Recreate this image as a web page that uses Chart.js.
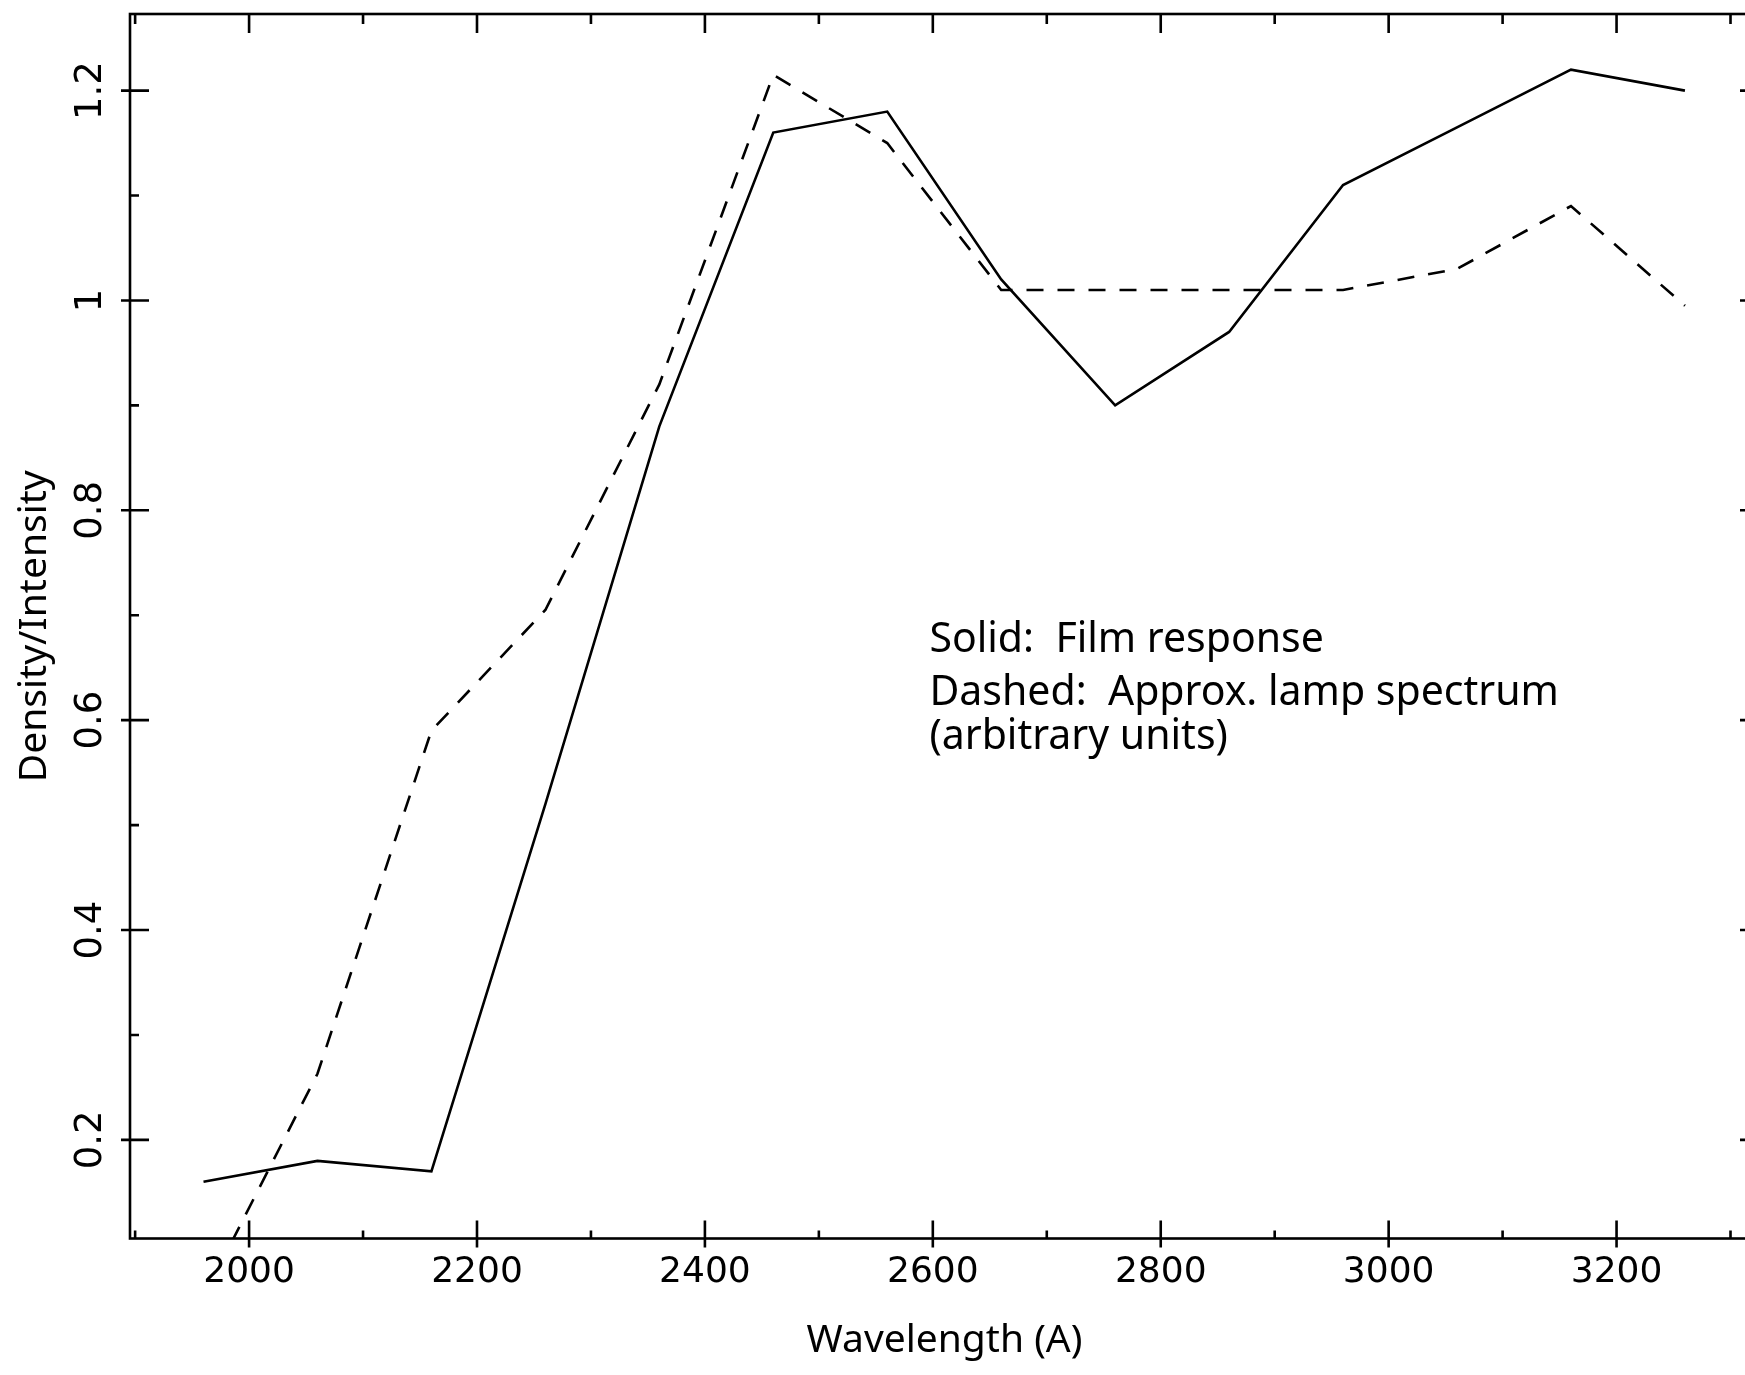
<!DOCTYPE html>
<html lang="en">
<head>
  <meta charset="UTF-8">
  <title>Film response and lamp spectrum</title>
  <script src="https://cdn.jsdelivr.net/npm/chart.js"></script>
  <style>
    body {
      margin: 0;
      padding: 0;
      background: #fff;
      overflow: hidden;
    }
    #wrap {
      width: 1745px;
      height: 1375px;
      overflow: hidden;
    }
    canvas {
      display: block;
    }
  </style>
</head>
<body>

<div id="wrap">
  <canvas id="spectrumChart" width="1765" height="1375"></canvas>
</div>

<script>
  // Wavelength (A) of each sample
  const wavelengths = [1960, 2060, 2160, 2260, 2360, 2460, 2560, 2660, 2760, 2860, 2960, 3060, 3160, 3260];
  // Solid: film response (density)
  const filmResponse = [0.16, 0.18, 0.17, 0.52, 0.88, 1.16, 1.18, 1.02, 0.90, 0.97, 1.11, 1.165, 1.22, 1.20];
  // Dashed: approx. lamp spectrum (arbitrary units)
  const lampSpectrum = [0.05, 0.263, 0.59, 0.705, 0.92, 1.215, 1.15, 1.01, 1.01, 1.01, 1.01, 1.03, 1.09, 0.995];

  const xMajorStep = 200;
  const notes = [
    { text: 'Solid:  Film response', x: 2597, y: 0.6765 },
    { text: 'Dashed:  Approx. lamp spectrum', x: 2597, y: 0.626 },
    { text: '(arbitrary units)', x: 2597, y: 0.584 }
  ];

  const tickFont = { family: 'DejaVu Sans', size: 36 };
  const textFont = { family: 'Noto Sans', size: 39 };

  // frame, inward tick marks and the text block
  const frameTicks = {
    id: 'frameTicks',
    afterDraw(chart) {
      const { ctx, chartArea: a, scales: { x, y } } = chart;
      ctx.save();
      ctx.strokeStyle = '#000';
      ctx.lineWidth = 2.6;
      ctx.lineCap = 'butt';
      ctx.strokeRect(a.left, a.top, a.right - a.left, a.bottom - a.top);

      ctx.beginPath();
      x.ticks.forEach(t => {
        const px = x.getPixelForValue(t.value);
        const major = Math.round(t.value) % xMajorStep === 0;
        ctx.moveTo(px, a.bottom + (major ? 9 : 0));
        ctx.lineTo(px, a.bottom - (major ? 18 : 8));
        ctx.moveTo(px, a.top);
        ctx.lineTo(px, a.top + (major ? 19 : 10));
      });
      y.ticks.forEach(t => {
        const py = y.getPixelForValue(t.value);
        const major = Math.round(t.value * 10) % 2 === 0;
        ctx.moveTo(a.left - (major ? 9 : 0), py);
        ctx.lineTo(a.left + (major ? 19 : 9), py);
        ctx.moveTo(a.right, py);
        ctx.lineTo(a.right - (major ? 19 : 9), py);
      });
      ctx.stroke();

      ctx.fillStyle = '#000';
      ctx.font = '41px "Noto Sans"';
      ctx.textAlign = 'left';
      ctx.textBaseline = 'middle';
      notes.forEach(n => {
        ctx.fillText(n.text, x.getPixelForValue(n.x), y.getPixelForValue(n.y));
      });
      ctx.restore();
    }
  };

  const ctx = document.getElementById('spectrumChart').getContext('2d');
  new Chart(ctx, {
    type: 'line',
    data: {
      datasets: [
        {
          label: 'Film response',
          data: wavelengths.map((w, i) => ({ x: w, y: filmResponse[i] })),
          borderColor: '#000',
          borderWidth: 2.6,
          pointRadius: 0,
          tension: 0,
          fill: false
        },
        {
          label: 'Approx. lamp spectrum',
          data: wavelengths.map((w, i) => ({ x: w, y: lampSpectrum[i] })),
          borderColor: '#000',
          borderWidth: 2.6,
          borderDash: [17, 14],
          pointRadius: 0,
          tension: 0,
          fill: false
        }
      ]
    },
    options: {
      responsive: false,
      animation: false,
      layout: { padding: { left: 0, right: 6, top: 14, bottom: 0 } },
      plugins: {
        legend: { display: false },
        tooltip: { enabled: false }
      },
      scales: {
        x: {
          type: 'linear',
          position: 'bottom',
          min: 1895.5,
          max: 3325,
          grid: { display: false, drawTicks: false, tickLength: 0 },
          border: { display: false },
          ticks: {
            stepSize: 100,
            includeBounds: false,
            autoSkip: false,
            maxRotation: 0,
            padding: 13,
            color: '#000',
            font: tickFont,
            callback: v => (Math.round(v) % xMajorStep === 0 ? String(v) : '')
          },
          title: {
            display: true,
            text: 'Wavelength (A)',
            color: '#000',
            font: textFont,
            padding: { top: 0, bottom: 11 }
          },
          afterFit: s => { s.height = 136.5; s.paddingLeft = 0; s.paddingRight = 0; }
        },
        y: {
          type: 'linear',
          min: 0.106,
          max: 1.273,
          grid: { display: false, drawTicks: false, tickLength: 0 },
          border: { display: false },
          ticks: {
            stepSize: 0.1,
            includeBounds: false,
            autoSkip: false,
            minRotation: 90,
            maxRotation: 90,
            crossAlign: 'center',
            padding: 9,
            color: '#000',
            font: { family: 'DejaVu Sans', size: 37 },
            callback: v => (Math.round(v * 10) % 2 === 0 ? String(Math.round(v * 10) / 10) : '')
          },
          title: {
            display: true,
            text: 'Density/Intensity',
            color: '#000',
            font: textFont,
            padding: { top: 11, bottom: 0 }
          },
          afterFit: s => { s.width = 130; s.paddingTop = 0; s.paddingBottom = 0; }
        }
      }
    },
    plugins: [frameTicks]
  });
</script>

</body>
</html>
